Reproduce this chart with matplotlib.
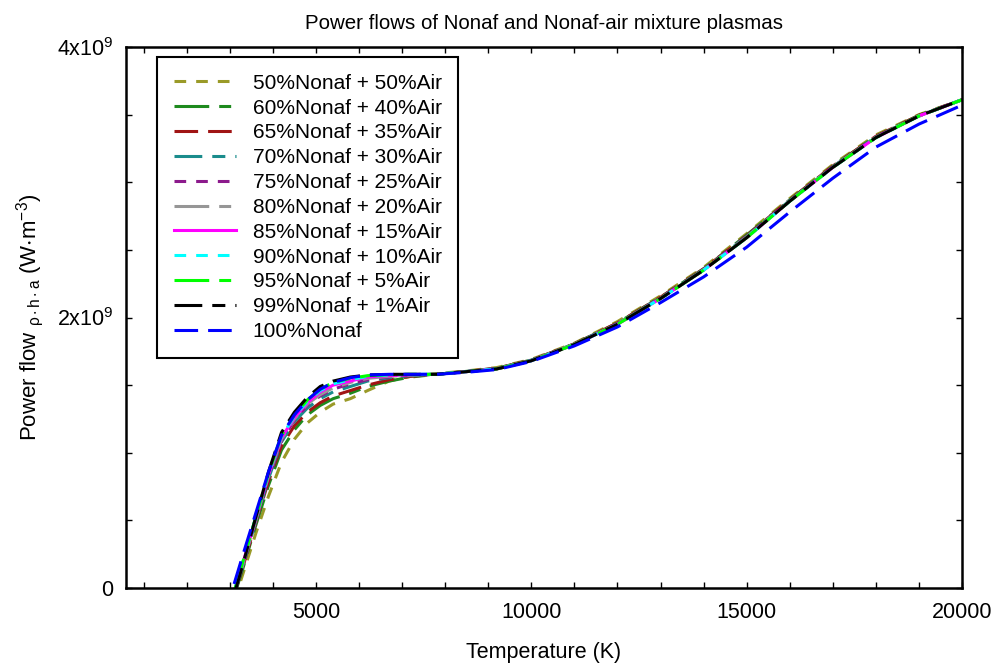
import matplotlib
matplotlib.use('Agg')
import matplotlib.pyplot as plt
from matplotlib.ticker import MultipleLocator, FixedLocator, FixedFormatter

plt.rcParams['font.family'] = ['Liberation Sans', 'DejaVu Sans']
plt.rcParams['mathtext.fontset'] = 'custom'
plt.rcParams['mathtext.rm'] = 'Liberation Sans'
plt.rcParams['mathtext.it'] = 'Liberation Sans:italic'
plt.rcParams['mathtext.default'] = 'regular'
plt.rcParams['lines.scale_dashes'] = False

# temperature grid (K)
temp = [3100, 3300, 3600, 3900, 4200, 4500, 4800, 5100, 5400, 5800, 6200, 6700, 7200,
        7800, 8500, 9200, 10000, 11000, 12000, 13000, 14000, 15000, 16000, 17000,
        18000, 19000, 20000]

# power flow, units of 1e9 W/m^3
nonaf50 = [-0.10, 0.10, 0.40, 0.68, 0.93, 1.10, 1.22, 1.30, 1.36, 1.40, 1.46, 1.53, 1.565,
           1.585, 1.605, 1.63, 1.69, 1.81, 1.97, 2.16, 2.37, 2.62, 2.88, 3.13, 3.35, 3.50, 3.61]
nonaf60 = [-0.06, 0.14, 0.46, 0.76, 1.02, 1.17, 1.28, 1.35, 1.40, 1.44, 1.49, 1.53, 1.56,
           1.58, 1.602, 1.625, 1.685, 1.805, 1.96, 2.15, 2.36, 2.61, 2.87, 3.12, 3.34, 3.495, 3.61]
nonaf65 = [-0.05, 0.15, 0.48, 0.79, 1.05, 1.20, 1.30, 1.37, 1.42, 1.46, 1.50, 1.54, 1.565,
           1.58, 1.602, 1.625, 1.685, 1.805, 1.96, 2.15, 2.36, 2.605, 2.87, 3.12, 3.34, 3.495, 3.61]
nonaf70 = [-0.05, 0.16, 0.49, 0.81, 1.08, 1.23, 1.33, 1.40, 1.45, 1.49, 1.53, 1.555, 1.57,
           1.58, 1.60, 1.622, 1.683, 1.803, 1.955, 2.145, 2.355, 2.60, 2.865, 3.115, 3.335, 3.49, 3.61]
nonaf75 = [-0.04, 0.17, 0.50, 0.82, 1.09, 1.24, 1.35, 1.42, 1.47, 1.51, 1.54, 1.56, 1.575,
           1.58, 1.60, 1.622, 1.682, 1.802, 1.955, 2.145, 2.355, 2.60, 2.865, 3.115, 3.335, 3.49, 3.61]
nonaf80 = [-0.04, 0.17, 0.50, 0.83, 1.10, 1.25, 1.36, 1.43, 1.48, 1.52, 1.55, 1.565, 1.575,
           1.58, 1.60, 1.621, 1.681, 1.801, 1.952, 2.142, 2.352, 2.595, 2.862, 3.112, 3.332, 3.49, 3.61]
nonaf85 = [-0.03, 0.18, 0.51, 0.84, 1.11, 1.26, 1.37, 1.45, 1.50, 1.53, 1.56, 1.57, 1.578,
           1.58, 1.60, 1.62, 1.68, 1.80, 1.95, 2.14, 2.35, 2.59, 2.86, 3.11, 3.33, 3.49, 3.61]
nonaf90 = [-0.03, 0.19, 0.52, 0.85, 1.12, 1.27, 1.38, 1.46, 1.51, 1.54, 1.565, 1.575, 1.58,
           1.58, 1.60, 1.62, 1.68, 1.80, 1.95, 2.14, 2.35, 2.59, 2.86, 3.11, 3.33, 3.49, 3.61]
nonaf95 = [-0.03, 0.19, 0.52, 0.85, 1.13, 1.28, 1.39, 1.47, 1.52, 1.55, 1.57, 1.578, 1.58,
           1.58, 1.60, 1.62, 1.68, 1.80, 1.95, 2.14, 2.35, 2.59, 2.86, 3.11, 3.33, 3.49, 3.61]
nonaf99 = [-0.05, 0.17, 0.52, 0.86, 1.15, 1.30, 1.41, 1.49, 1.53, 1.56, 1.575, 1.58, 1.58,
           1.58, 1.60, 1.62, 1.68, 1.80, 1.95, 2.14, 2.35, 2.59, 2.86, 3.11, 3.33, 3.49, 3.61]
nonaf100 = [0.03, 0.24, 0.55, 0.86, 1.13, 1.28, 1.39, 1.47, 1.52, 1.555, 1.575, 1.58, 1.58,
            1.58, 1.595, 1.615, 1.675, 1.79, 1.93, 2.11, 2.30, 2.52, 2.78, 3.03, 3.26, 3.43, 3.57]

labels = ['50%Nonaf + 50%Air', '60%Nonaf + 40%Air', '65%Nonaf + 35%Air',
          '70%Nonaf + 30%Air', '75%Nonaf + 25%Air', '80%Nonaf + 20%Air',
          '85%Nonaf + 15%Air', '90%Nonaf + 10%Air', '95%Nonaf + 5%Air',
          '99%Nonaf + 1%Air', '100%Nonaf']
series = [nonaf50, nonaf60, nonaf65, nonaf70, nonaf75, nonaf80,
          nonaf85, nonaf90, nonaf95, nonaf99, nonaf100]
colors = ['#9a9a28', '#1e8a1e', '#a01414', '#1a8c8c', '#8c1a8c', '#969696',
          '#ff00ff', '#00ffff', '#00ff00', '#000000', '#0000ff']

short = (0, (8.4, 7.2))
long_short = (0, (25, 7.2, 8.6, 7.2))
mid_short = (0, (20, 7.2, 9.4, 7.2))
long_long = (0, (17, 7.2))
styles = [short, long_short, long_long, mid_short, short, long_short,
          '-', short, long_short, mid_short, long_long]

fig = plt.figure(figsize=(9.92, 6.65), dpi=100)
ax = fig.add_axes([0.127, 0.1158, 0.8428, 0.8135])

for vals, lab, c, ls in zip(series, labels, colors, styles):
    ax.plot(temp, [v * 1e9 for v in vals], color=c, linestyle=ls, linewidth=2.2, label=lab)

ax.set_xlim(590, 20000)
ax.set_ylim(0, 4e9)
ax.xaxis.set_major_locator(FixedLocator([5000, 10000, 15000, 20000]))
ax.xaxis.set_minor_locator(MultipleLocator(1000))
ax.yaxis.set_major_locator(FixedLocator([0, 2e9, 4e9]))
ax.yaxis.set_major_formatter(FixedFormatter(['0', '2x10$^9$', '4x10$^9$']))
ax.yaxis.set_minor_locator(MultipleLocator(0.5e9))
ax.tick_params(which='both', direction='in', top=True, right=True, length=4, width=1)
ax.tick_params(axis='x', labelsize=15.5, pad=10)
ax.tick_params(axis='y', labelsize=15.5, pad=9)
for s in ax.spines.values():
    s.set_linewidth(1.8)

ax.set_title('Power flows of Nonaf and Nonaf-air mixture plasmas', fontsize=14.8, pad=13)
ax.set_xlabel('Temperature (K)', fontsize=15.5, labelpad=14)
ax.set_ylabel('Power flow $_{\\rho\\cdot h\\cdot a}$ (W$\\cdot$m$^{-3}$)', fontsize=16, labelpad=8)

leg = ax.legend(loc='upper left', bbox_to_anchor=(0.037, 0.9815), borderaxespad=0,
                fontsize=15, handlelength=3.0, handletextpad=0.8, labelspacing=0.28,
                fancybox=False, edgecolor='black', framealpha=1, borderpad=0.8)
leg.get_frame().set_linewidth(1.5)

fig.savefig('out.png', dpi=100)
